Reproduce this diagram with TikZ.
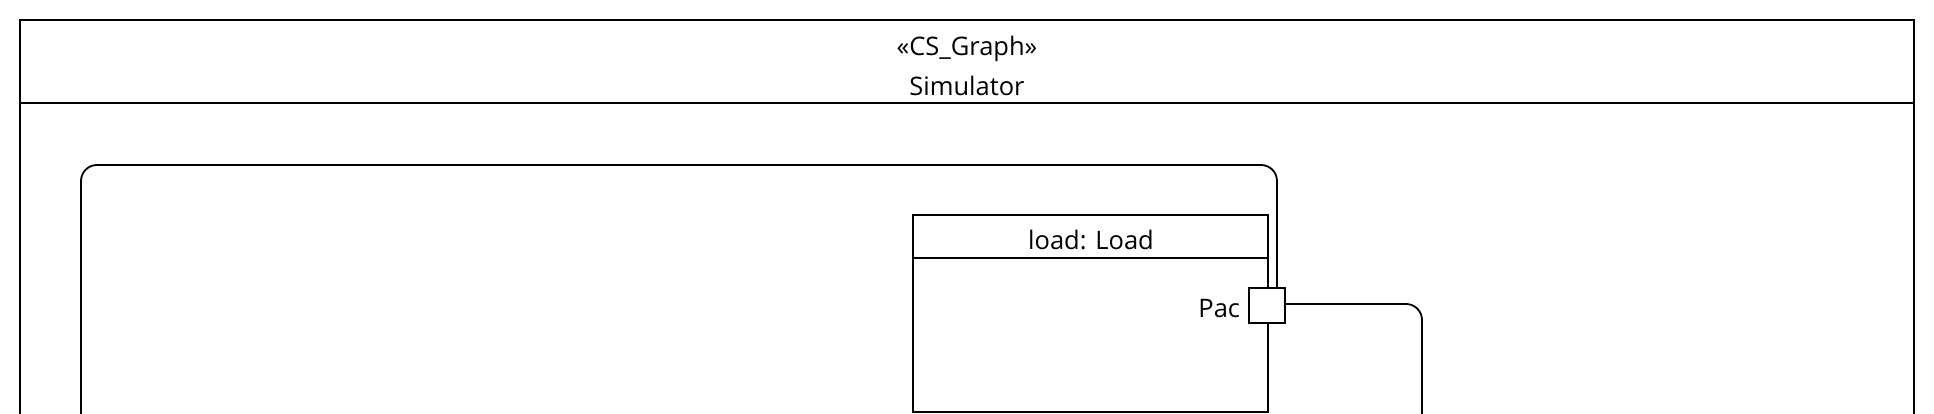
\documentclass[tikz,border=0pt]{standalone}
\usepackage{fontspec}
\setmainfont{Open Sans}
\begin{document}
\begin{tikzpicture}[x=1pt,y=-1pt,
  line width=1.8pt,
  lbl/.style={font=\fontsize{25.5}{30}\selectfont, inner sep=0pt},
  conn/.style={draw, rounded corners=16pt},
  partbox/.style={draw, minimum width=355pt, minimum height=197pt, inner sep=0pt, anchor=north west},
  portbox/.style={draw, fill=white, minimum width=36pt, minimum height=35pt, inner sep=0pt}]
\useasboundingbox (0,0) rectangle (1934,414);
\clip (0,0) rectangle (1934,414);
% outer frame
\draw (20,440) -- (20,20) -- (1914,20) -- (1914,440);
\draw (20,103) -- (1914,103);
\node[lbl] (stereo) at (967,49) {«CS\_Graph»};
\node[lbl] (simname) at (967,86) {Simulator};
% part
\node[partbox] (load) at (912,214) {};
\draw (load.west |- 0,258) -- (load.east |- 0,258);
\node[lbl] (loadname) at (1091,240) {load: Load};
\coordinate (cl) at (81,440);
\coordinate (ctop) at (81,165);
\coordinate (cr) at (1422,440);
\node[portbox] (pac) at (1267,305.5) {};
\node[lbl, anchor=east] (paclbl) at (1241,309) {Pac};
% connectors
\draw[conn] ([xshift=10pt]pac.north) |- (ctop) -- (cl);
\draw[conn] ([yshift=1.5pt]pac.east) -| (cr);
\end{tikzpicture}
\end{document}
